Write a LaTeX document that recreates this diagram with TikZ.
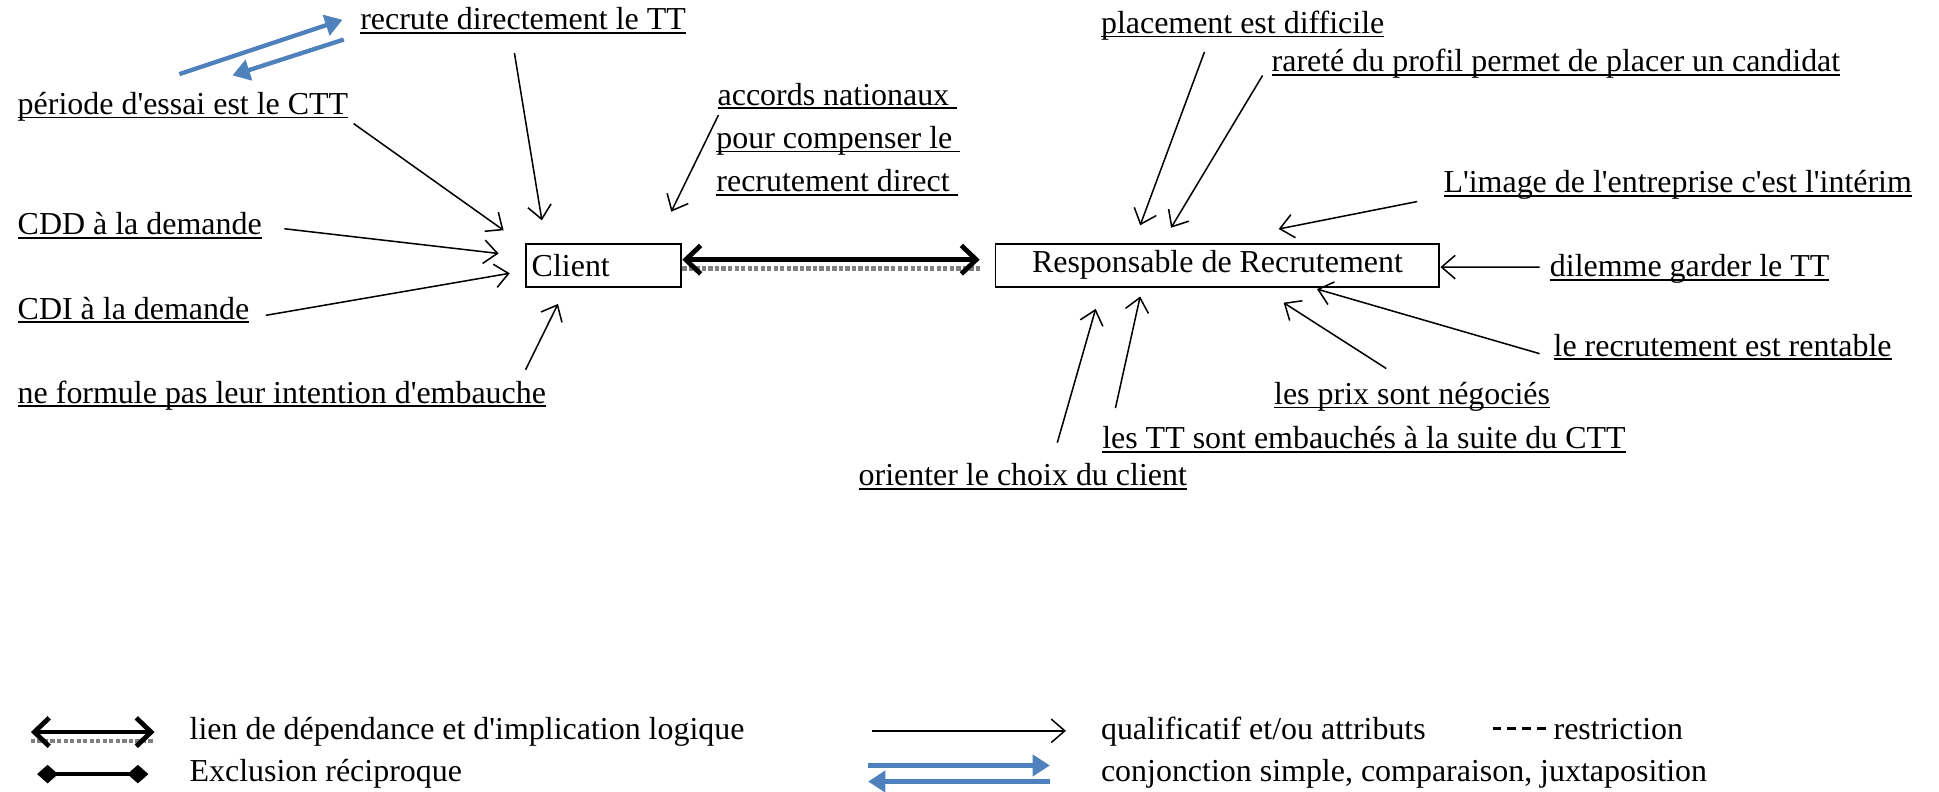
\documentclass[tikz,border=0pt]{standalone}
\usepackage{fontspec}
\setmainfont{Liberation Serif}[Ligatures=TeXOff]
\usepackage{xcolor}
\usetikzlibrary{arrows.meta}
\definecolor{conjblue}{RGB}{79,129,189}
\newsavebox{\undlbox}
\newcommand{\undl}[1]{\sbox{\undlbox}{#1}\usebox{\undlbox}\llap{\rule[-1.8pt]{\wd\undlbox}{0.8pt}}}

\begin{document}
\begin{tikzpicture}[font=\fontsize{14.7}{18}\selectfont,
  lbl/.style={anchor=base west, inner sep=0pt},
  box/.style={draw, line width=0.9pt, minimum height=0.7cm, inner sep=0.1cm},
  qual/.style={line width=0.7pt, -{Straight Barb[length=0.22cm,width=0.38cm]}},
  dep/.style={line width=2.2pt, {Straight Barb[length=0.24cm,width=0.46cm]}-{Straight Barb[length=0.24cm,width=0.46cm]},
    preaction={draw, -, gray, densely dotted, line width=2pt, transform canvas={yshift=-0.14cm}}},
  excl/.style={line width=1.8pt, {Diamond[length=0.34cm,width=0.3cm]}-{Diamond[length=0.34cm,width=0.3cm]}},
  conj/.style={line width=2pt, draw=conjblue, -{Triangle[length=0.28cm,width=0.34cm]}},
  restr/.style={line width=1.2pt, dash pattern=on 0.14cm off 0.1cm}]
  \useasboundingbox (0,0) rectangle (31.36,12.8);
  % the two actors
  \node[box, text width=2.32cm, align=left] (cli) at (9.76,8.51) {Client};
  \node[box, minimum width=7.18cm] (resp) at (19.69,8.51) {Responsable de Recrutement};
  % around the client
  \node[lbl] (rec) at (5.82,12.32) {\undl{recrute directement le TT}};
  \node[lbl] (per) at (0.28,10.95) {\undl{période d'essai est le CTT}};
  \node[lbl] (cdd) at (0.28,9.0) {\undl{CDD à la demande}};
  \node[lbl] (cdi) at (0.28,7.64) {\undl{CDI à la demande}};
  \node[lbl] (nef) at (0.28,6.28) {\undl{ne formule pas leur intention d'embauche}};
  \node[lbl] (acc) at (11.6,11.1) {\undl{accords nationaux\ }};
  \node[lbl] (acc2) at (11.58,10.4) {\undl{pour compenser le\ }};
  \node[lbl] (acc3) at (11.58,9.7) {\undl{recrutement direct\ }};
  % around the recruiter
  \node[lbl] (pla) at (17.8,12.26) {\undl{placement est difficile}};
  \node[lbl] (rar) at (20.56,11.64) {\undl{rareté du profil permet de placer un candidat}};
  \node[lbl] (img) at (23.34,9.68) {\undl{L'image de l'entreprise c'est l'intérim}};
  \node[lbl] (dil) at (25.06,8.32) {\undl{dilemme garder le TT}};
  \node[lbl] (ren) at (25.12,7.04) {\undl{le recrutement est rentable}};
  \node[lbl] (pri) at (20.6,6.26) {\undl{les prix sont négociés}};
  \node[lbl] (tts) at (17.82,5.54) {\undl{les TT sont embauchés à la suite du CTT}};
  \node[lbl] (ori) at (13.88,4.94) {\undl{orienter le choix du client}};

  \draw[dep] ([yshift=0.09cm]cli.east) -- ([shift={(-0.24,0.09)}]resp.west);

  \draw[conj] ([shift={(2.62,0.65)}]per.base west) -- ([shift={(-0.28,0.16)}]rec.base west);
  \draw[conj] ([shift={(-0.26,-0.16)}]rec.base west) -- ([shift={(3.48,0.63)}]per.base west);

  \draw[qual] ([shift={(2.5,-0.38)}]rec.base west) -- ([shift={(0.28,0.36)}]cli.north west);
  \draw[qual] ([shift={(5.44,-0.15)}]per.base west) -- ([shift={(-0.34,0.2)}]cli.north west);
  \draw[qual] ([shift={(4.32,0.1)}]cdd.base west) -- ([shift={(-0.42,0.19)}]cli.west);
  \draw[qual] ([shift={(4.02,0.06)}]cdi.base west) -- ([shift={(-0.24,-0.13)}]cli.west);
  \draw[qual] ([shift={(8.22,0.54)}]nef.base west) -- ([shift={(0.54,-0.26)}]cli.south west);
  \draw[qual] ([shift={(0.02,-0.16)}]acc.base west) -- ([shift={(-0.18,0.5)}]cli.north east);

  \draw[qual] ([shift={(1.68,-0.3)}]pla.base west) -- ([shift={(-1.25,0.28)}]resp.north);
  \draw[qual] ([shift={(-0.14,-0.06)}]rar.base west) -- ([shift={(-0.75,0.24)}]resp.north);
  \draw[qual] ([shift={(-0.42,-0.14)}]img.base west) -- ([shift={(0.99,0.22)}]resp.north);
  \draw[qual] ([shift={(-0.16,0.16)}]dil.base west) -- ([yshift=-0.03cm]resp.east);
  \draw[qual] ([shift={(-0.22,0.04)}]ren.base west) -- ([shift={(1.61,-0.02)}]resp.south);
  \draw[qual] ([shift={(1.82,0.58)}]pri.base west) -- ([shift={(1.07,-0.24)}]resp.south);
  \draw[qual] ([shift={(0.22,0.66)}]tts.base west) -- ([shift={(-1.25,-0.14)}]resp.south);
  \draw[qual] ([shift={(3.22,0.7)}]ori.base west) -- ([shift={(-1.97,-0.34)}]resp.south);

  % legend
  \node[lbl] (leg1) at (3.06,0.84) {lien de dépendance et d'implication logique};
  \node[lbl] (leg2) at (3.06,0.16) {Exclusion réciproque};
  \node[lbl] (leg3) at (17.8,0.84) {qualificatif et/ou attributs};
  \node[lbl] (leg4) at (25.12,0.84) {restriction};
  \node[lbl] (leg5) at (17.8,0.16) {conjonction simple, comparaison, juxtaposition};
  \draw[dep] ([shift={(-2.56,0.12)}]leg1.base west) -- ([shift={(-0.56,0.12)}]leg1.base west);
  \draw[excl] ([shift={(-2.46,0.12)}]leg2.base west) -- ([shift={(-0.66,0.12)}]leg2.base west);
  \draw[qual] ([shift={(-3.7,0.14)}]leg3.base west) -- ([shift={(-0.56,0.14)}]leg3.base west);
  \draw[restr] ([shift={(-0.98,0.18)}]leg4.base west) -- ([shift={(-0.08,0.18)}]leg4.base west);
  \draw[conj] ([shift={(-3.76,0.26)}]leg5.base west) -- ([shift={(-0.82,0.26)}]leg5.base west);
  \draw[conj] ([shift={(-0.82,0)}]leg5.base west) -- ([shift={(-3.76,0)}]leg5.base west);
\end{tikzpicture}
\end{document}
